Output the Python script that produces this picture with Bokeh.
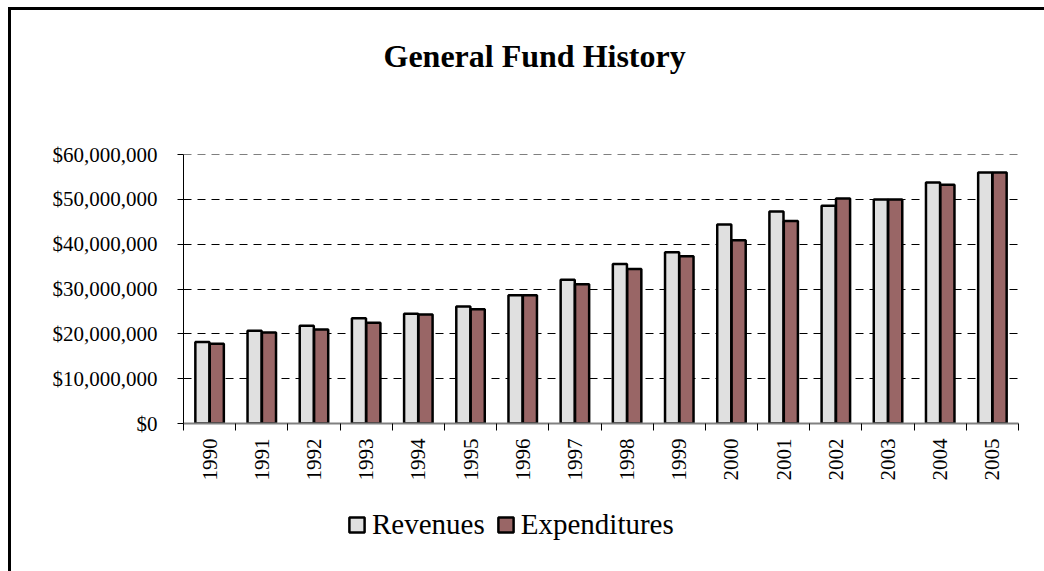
from bokeh.plotting import figure
from bokeh.layouts import column
from bokeh.models import (FactorRange, Range1d, LinearAxis, CategoricalAxis, FixedTicker,
                          NumeralTickFormatter, Legend, LegendItem, ColumnDataSource,
                          CustomJSTickFormatter, Title)
from bokeh.transform import dodge
from bokeh.embed import file_html
from bokeh.resources import INLINE
import math

years = [str(y) for y in range(1990, 2006)]
revenues = [18.2e6, 20.7e6, 21.8e6, 23.5e6, 24.5e6, 26.1e6, 28.6e6, 32.1e6,
            35.6e6, 38.2e6, 44.4e6, 47.3e6, 48.6e6, 50.0e6, 53.8e6, 56.0e6]
expenditures = [17.8e6, 20.3e6, 21.0e6, 22.5e6, 24.3e6, 25.5e6, 28.6e6, 31.1e6,
                34.5e6, 37.3e6, 40.9e6, 45.2e6, 50.2e6, 50.0e6, 53.3e6, 56.0e6]
y_ticks = [0, 10e6, 20e6, 30e6, 40e6, 50e6, 60e6]
series_names = ["Revenues", "Expenditures"]
series_colors = ["#E0E0E0", "#996666"]
chart_title = "General Fund History"

FONT = "Liberation Serif"

# title strip
p0 = figure(width=1033, height=96, output_backend="svg", toolbar_location=None,
            x_range=Range1d(0, 1), y_range=Range1d(0, 1),
            x_axis_location=None, y_axis_location=None, min_border=0)
p0.outline_line_color = None
p0.grid.visible = False
p0.border_fill_color = "white"
p0.title = Title(text=chart_title, align="left", offset=200, vertical_align="bottom",
                 standoff=50, text_font=FONT, text_font_size="32px",
                 text_font_style="bold", text_color="black")

# main chart
p = figure(x_range=FactorRange(*years), y_range=Range1d(0, 60.03e6),
           width=1033, height=384, output_backend="svg", toolbar_location=None,
           x_axis_location=None, min_border_left=172, min_border_right=26,
           min_border_top=48, min_border_bottom=67)
p.title = None
p.outline_line_color = None
p.background_fill_color = "white"
p.border_fill_color = "white"

source = ColumnDataSource(dict(years=years, revenues=revenues, expenditures=expenditures))
r1 = p.vbar(x=dodge("years", -0.138, range=p.x_range), top="revenues", width=0.27,
            source=source, fill_color=series_colors[0], line_color="black", line_width=2.5)
r2 = p.vbar(x=dodge("years", 0.138, range=p.x_range), top="expenditures", width=0.27,
            source=source, fill_color=series_colors[1], line_color="black", line_width=2.5)

# y axis
yax = p.yaxis[0]
yax.ticker = FixedTicker(ticks=y_ticks)
yax.formatter = NumeralTickFormatter(format="$0,0")
yax.major_label_text_font = FONT
yax.major_label_text_font_size = "21px"
yax.major_label_text_color = "black"
yax.major_label_standoff = 20
yax.major_tick_in = 0
yax.major_tick_out = 6
yax.minor_tick_line_color = None
yax.axis_line_color = "black"
yax.major_tick_line_color = "black"

p.ygrid.ticker = FixedTicker(ticks=y_ticks)
p.ygrid.grid_line_color = "black"
p.ygrid.grid_line_dash = "8 6"
p.xgrid.visible = False

# boundary ticks between categories (synthetic coordinates 0..N)
tick_axis = LinearAxis(ticker=FixedTicker(ticks=list(range(len(years) + 1))),
                       formatter=CustomJSTickFormatter(code="return ''"),
                       major_label_text_font_size="0px", major_label_standoff=0,
                       major_tick_in=0, major_tick_out=7, minor_tick_line_color=None,
                       axis_line_color="#808080", axis_line_width=2,
                       major_tick_line_color="black")
p.add_layout(tick_axis, "below")

label_axis = CategoricalAxis(major_tick_in=0, major_tick_out=0, axis_line_color=None,
                             major_tick_line_color=None,
                             major_label_orientation=math.pi / 2,
                             major_label_text_font=FONT, major_label_text_font_size="21px",
                             major_label_text_color="black",
                             major_label_standoff=8)
p.add_layout(label_axis, "below")

# legend strip below the chart (hidden proxy renderers carry the legend swatches)
p2 = figure(width=1033, height=81, output_backend="svg", toolbar_location=None,
            x_range=Range1d(0, 1), y_range=Range1d(0, 1),
            x_axis_location=None, y_axis_location=None, min_border=0)
p2.outline_line_color = None
p2.grid.visible = False
p2.border_fill_color = "white"
proxies = [p2.vbar(x=[0], top=[0], width=0.1, fill_color=c, line_color="black",
                   line_width=2.5, visible=False)
           for c in series_colors]
legend = Legend(items=[LegendItem(label=n, renderers=[r]) for n, r in zip(series_names, proxies)],
                orientation="horizontal", location=(164, 30),
                glyph_width=19, glyph_height=19, label_standoff=6, spacing=11,
                padding=0, margin=0, border_line_color=None, background_fill_alpha=0,
                label_text_font=FONT, label_text_font_size="29px", label_text_color="black")
p2.add_layout(legend)

layout = column(p0, p, p2, spacing=0)
layout.styles = {"border-left": "3px solid black", "border-top": "3px solid black",
                 "margin-left": "8px", "margin-top": "7px"}

open("out.html", "w").write(file_html(layout, INLINE))
